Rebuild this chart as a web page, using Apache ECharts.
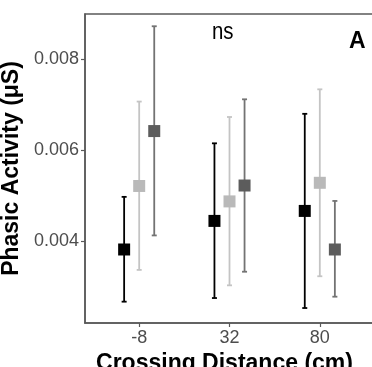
<!DOCTYPE html>
<html>
<head>
<meta charset="utf-8">
<script src="https://cdn.jsdelivr.net/npm/echarts@6/dist/echarts.min.js"></script>
<style>html,body{margin:0;padding:0;background:#fff}#c{width:372px;height:367px}</style>
</head>
<body>
<div id="c"></div>
<script>
// Categories (crossing distance, cm)
var categories = ['-8', '32', '80'];
// Y tick labels
var yTicks = [0.004, 0.006, 0.008];
// Group 1 (black)
var blackMean  = [0.00381, 0.00444, 0.00466];
var blackLower = [0.00266, 0.00274, 0.00252];
var blackUpper = [0.00497, 0.00615, 0.00680];
// Group 2 (light grey)
var lightMean  = [0.00521, 0.00487, 0.00528];
var lightLower = [0.00336, 0.00302, 0.00322];
var lightUpper = [0.00707, 0.00673, 0.00734];
// Group 3 (dark grey)
var darkMean  = [0.00642, 0.00522, 0.00381];
var darkLower = [0.00412, 0.00332, 0.00277];
var darkUpper = [0.00873, 0.00712, 0.00488];

var groups = [
  {mean: blackMean, lower: blackLower, upper: blackUpper, offset: -1/6, color: '#000000', barColor: '#000000'},
  {mean: lightMean, lower: lightLower, upper: lightUpper, offset: 0, color: '#b9b9b9', barColor: '#c4c4c4'},
  {mean: darkMean, lower: darkLower, upper: darkUpper, offset: 1/6, color: '#5c5c5c', barColor: '#737373'}
];

var series = [];
groups.forEach(function (g) {
  var ebData = categories.map(function (c, i) { return [i + 1 + g.offset, g.lower[i], g.upper[i]]; });
  series.push({
    type: 'custom',
    data: ebData,
    encode: {x: 0, y: [1, 2]},
    renderItem: function (params, api) {
      var x = api.value(0);
      var lo = api.coord([x, api.value(1)]);
      var hi = api.coord([x, api.value(2)]);
      var hw = 2.5;
      var st = {stroke: g.barColor, lineWidth: 1.8};
      return {
        type: 'group',
        children: [
          {type: 'line', shape: {x1: lo[0], y1: lo[1], x2: hi[0], y2: hi[1]}, style: st},
          {type: 'line', shape: {x1: lo[0] - hw, y1: lo[1], x2: lo[0] + hw, y2: lo[1]}, style: st},
          {type: 'line', shape: {x1: hi[0] - hw, y1: hi[1], x2: hi[0] + hw, y2: hi[1]}, style: st}
        ]
      };
    },
    z: 2
  });
  series.push({
    type: 'scatter',
    symbol: 'rect',
    symbolSize: 12,
    itemStyle: {color: g.color, opacity: 1},
    data: categories.map(function (c, i) { return [i + 1 + g.offset, g.mean[i]]; }),
    z: 3
  });
});

var chart = echarts.init(document.getElementById('c'));
chart.setOption({
  animation: false,
  backgroundColor: '#ffffff',
  grid: {left: 85, top: 14, width: 289, height: 309, show: true, borderColor: '#595959', borderWidth: 1.5,
    backgroundColor: 'transparent', containLabel: false, outerBoundsMode: 'none'},
  xAxis: {
    type: 'value', min: 0.4, max: 3.6,
    name: 'Crossing Distance (cm)', nameLocation: 'middle', nameGap: 25,
    nameTextStyle: {fontFamily: 'Liberation Sans', fontWeight: 'bold', fontSize: 23, color: '#000', padding: [0, 0, 0, -10]},
    axisLine: {show: true, lineStyle: {color: '#595959', width: 1.5}},
    axisTick: {show: true, length: 4, lineStyle: {color: '#595959', width: 1.2}, customValues: [1, 2, 3]},
    axisLabel: {margin: 6, fontFamily: 'Liberation Sans', fontSize: 18, color: '#4d4d4d', customValues: [1, 2, 3],
      formatter: function (v) { return categories[Math.round(v) - 1]; }},
    splitLine: {show: false}
  },
  yAxis: {
    type: 'value', min: 0.00219, max: 0.0090,
    name: 'Phasic Activity (μS)', nameLocation: 'middle', nameGap: 54,
    nameTextStyle: {fontFamily: 'Liberation Sans', fontWeight: 'bold', fontSize: 23, color: '#000'},
    axisLine: {show: true, lineStyle: {color: '#595959', width: 1.5}},
    axisTick: {show: true, length: 4, lineStyle: {color: '#595959', width: 1.2}, customValues: yTicks},
    axisLabel: {margin: 6, fontFamily: 'Liberation Sans', fontSize: 18, color: '#4d4d4d', customValues: yTicks,
      formatter: function (v) { return v.toFixed(3); }},
    splitLine: {show: false}
  },
  graphic: [
    {type: 'text', left: 212, top: 20, style: {text: 'ns', font: '24px "Liberation Sans"', fill: '#000'}, scaleX: 0.85},
    {type: 'text', left: 349, top: 30, style: {text: 'A', font: 'bold 23px "Liberation Sans"', fill: '#000'}}
  ],
  series: series
});
</script>
</body>
</html>
